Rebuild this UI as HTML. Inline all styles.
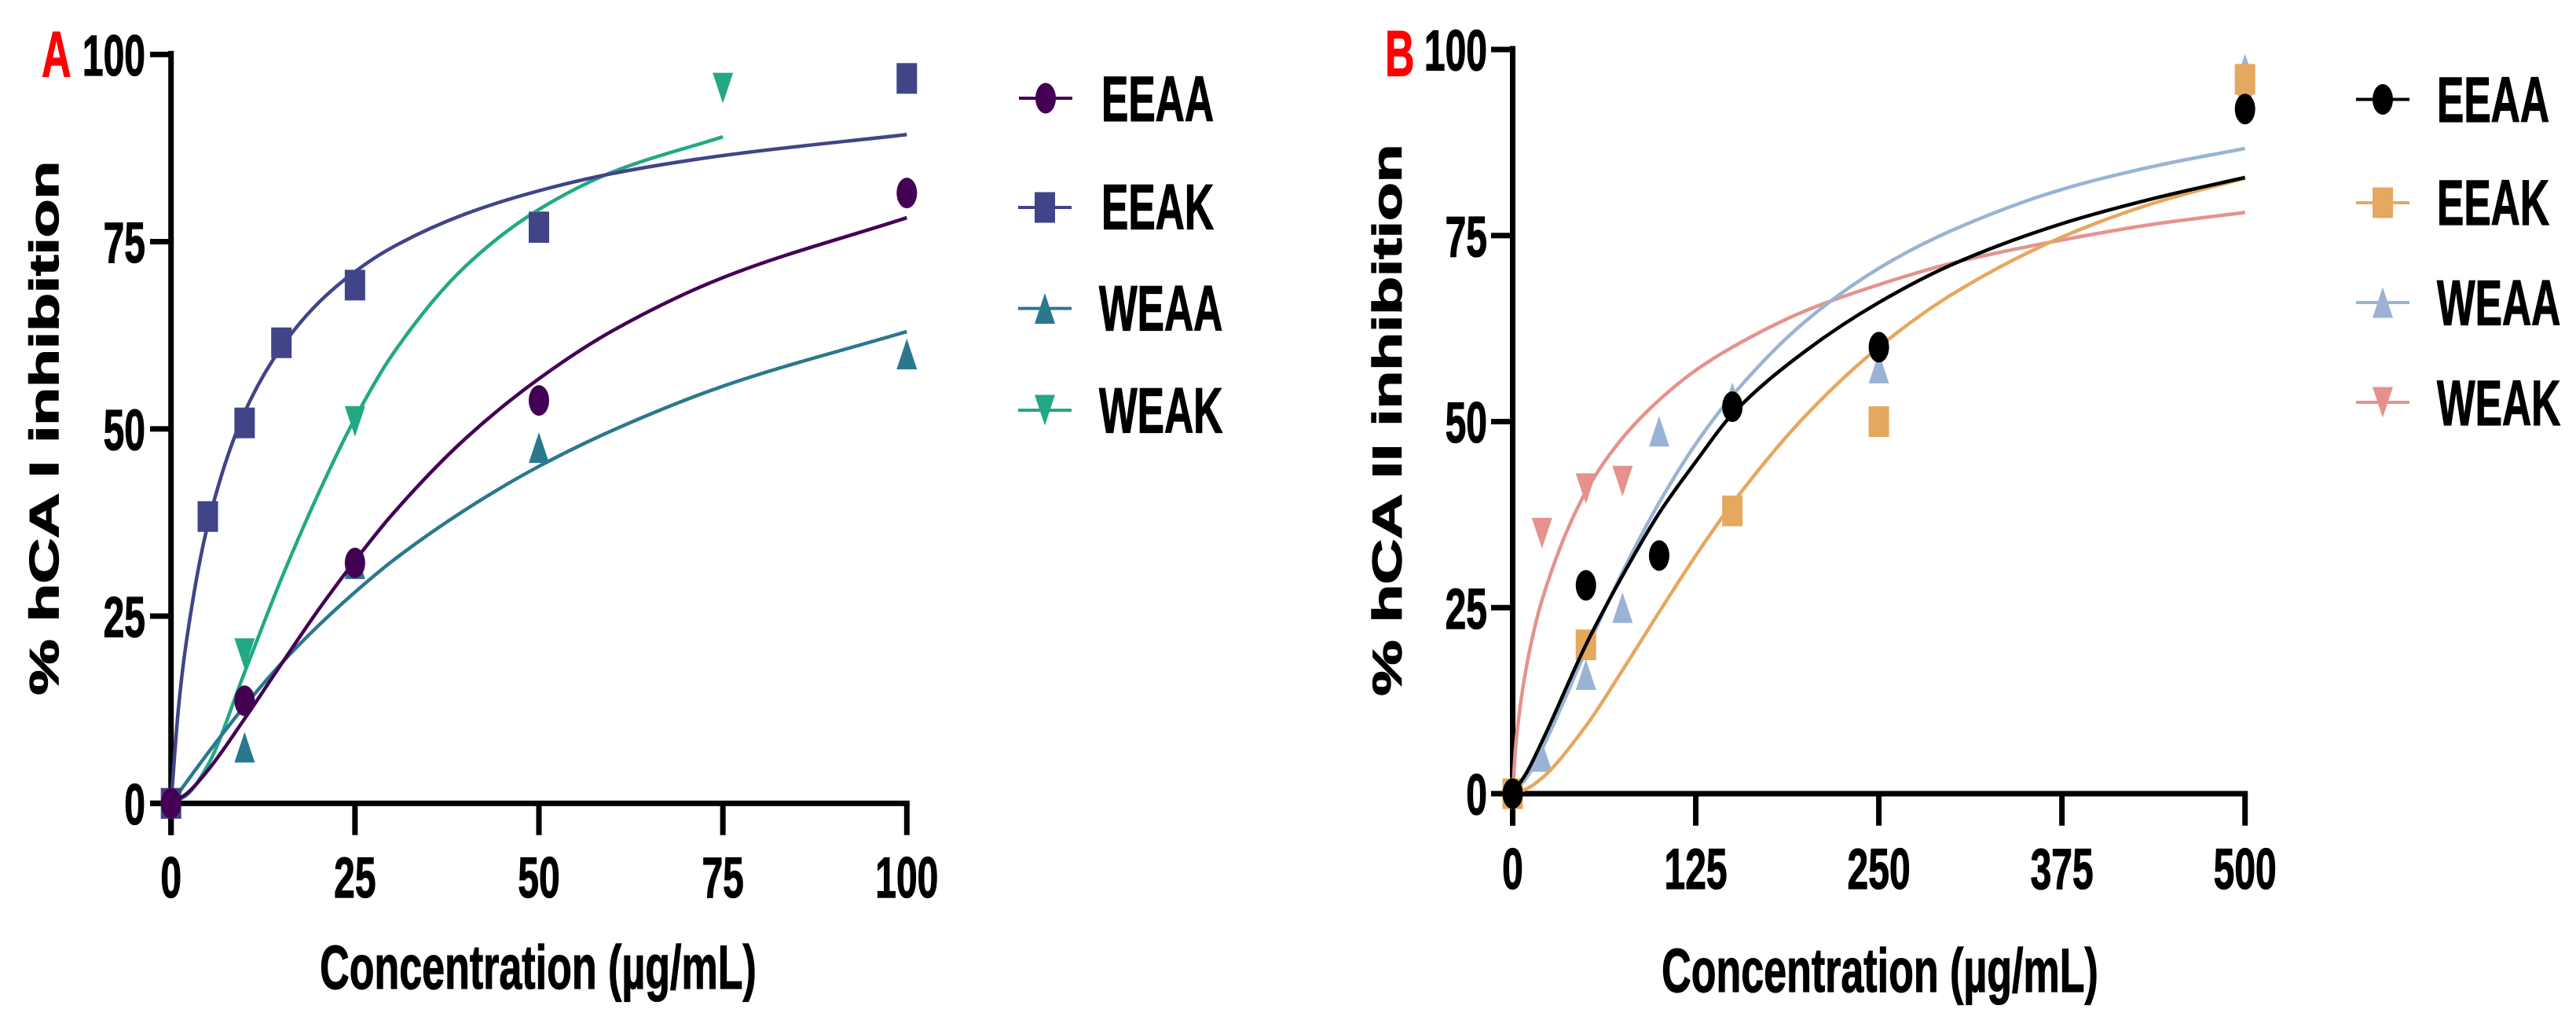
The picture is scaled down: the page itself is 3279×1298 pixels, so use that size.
<!DOCTYPE html>
<html lang="en">
<head>
<meta charset="utf-8">
<title>hCA I and hCA II inhibition curves</title>
<style>
html,body{margin:0;padding:0;background:#fff;width:3279px;height:1298px;overflow:hidden}
svg{display:block}
text{font-family:"Liberation Sans",Arial,sans-serif;font-weight:700;fill:#000;stroke:#000;stroke-width:0.8px}
</style>
</head>
<body>
<svg id="figure" xmlns="http://www.w3.org/2000/svg" width="3279" height="1298" viewBox="0 0 3279 1298">
  <rect x="0" y="0" width="3279" height="1298" fill="#fff"/>
  <g id="panelA"></g>
  <g id="panelB"></g>

  <text transform="translate(53,97.5) scale(1,1.58)" font-size="52" style="fill:#ff0000;stroke:#ff0000">A</text>
  <text transform="translate(1763,96.5) scale(1,1.58)" font-size="52" style="fill:#ff0000;stroke:#ff0000">B</text>

  <text transform="translate(685,1258) scale(1,1.52)" font-size="52" text-anchor="middle">Concentration (µg/mL)</text>
  <text transform="translate(2393,1262) scale(1,1.52)" font-size="52" text-anchor="middle">Concentration (µg/mL)</text>
  <text transform="translate(74,884.5) scale(1,1.535) rotate(-90)" font-size="52" style="stroke-width:1.4px">% hCA I inhibition</text>
  <text transform="translate(1783.5,885.5) scale(1,1.535) rotate(-90)" font-size="52" style="stroke-width:1.4px">% hCA II inhibition</text>

  <g id="legendA">
    <text transform="translate(1402,154) scale(1,1.58)" font-size="51.5">EEAA</text>
    <text transform="translate(1402,291.5) scale(1,1.58)" font-size="51.5">EEAK</text>
    <text transform="translate(1399,420.5) scale(1,1.58)" font-size="51.5">WEAA</text>
    <text transform="translate(1399,550.5) scale(1,1.58)" font-size="51.5">WEAK</text>
  </g>
  <g id="legendB">
    <text transform="translate(3102,155) scale(1,1.58)" font-size="51.5">EEAA</text>
    <text transform="translate(3102,286) scale(1,1.58)" font-size="51.5">EEAK</text>
    <text transform="translate(3102,413.5) scale(1,1.58)" font-size="51.5">WEAA</text>
    <text transform="translate(3102,541) scale(1,1.58)" font-size="51.5">WEAK</text>
  </g>
</svg>
<script>
// ---------- Panel A: data ----------
const aXTickLabels = [0, 25, 50, 75, 100];
const aYTickLabels = [0, 25, 50, 75, 100];

const aEeaaDoseX = [0, 10, 25, 50, 100];
const aEeaaDoseY = [0, 13.7, 32.1, 53.8, 81.5];
const aEeakDoseX = [0, 5, 10, 15, 25, 50, 100];
const aEeakDoseY = [0, 38.3, 50.8, 61.5, 69.2, 76.9, 96.8];
const aWeaaDoseX = [0, 10, 25, 50, 100];
const aWeaaDoseY = [0, 7.5, 32, 47.5, 60];
const aWeakDoseX = [0, 10, 25, 50, 75];
const aWeakDoseY = [0, 20, 51, 77, 95.5];

const aEeaaFitX = [0, 2, 5, 10, 15, 20, 25, 30, 40, 50, 60, 75, 100];
const aEeaaFitY = [0, 1.2, 4.4, 11.3, 18.6, 25.8, 32.4, 38.5, 48.7, 56.7, 63.1, 70.2, 78.2];
const aEeakFitX = [0, 1, 2, 5, 10, 15, 20, 25, 30, 40, 50, 60, 75, 100];
const aEeakFitY = [0, 12.6, 21, 37.2, 52.2, 60.9, 66.8, 71, 74.2, 78.7, 81.8, 84.1, 86.5, 89.3];
const aWeaaFitX = [0, 2, 5, 10, 15, 20, 25, 30, 40, 50, 60, 75, 100];
const aWeaaFitY = [0, 2.7, 6.7, 13, 18.7, 23.7, 28.2, 32.3, 39.2, 45, 49.8, 55.7, 63];
const aWeakFitX = [0, 2, 5, 10, 15, 20, 25, 30, 40, 50, 60, 75];
const aWeakFitY = [0, 1, 5.1, 17.5, 30, 41.3, 51.4, 59.8, 71.7, 79.3, 84.3, 89];

// ---------- Panel B: data ----------
const bXTickLabels = [0, 125, 250, 375, 500];
const bYTickLabels = [0, 25, 50, 75, 100];

const bEeaaDoseX = [0, 50, 100, 150, 250, 500];
const bEeaaDoseY = [0, 28, 32, 52, 60, 92];
const bEeakDoseX = [0, 50, 150, 250, 500];
const bEeakDoseY = [0, 20, 38, 50, 96];
const bWeaaDoseX = [0, 20, 50, 75, 100, 150, 250, 500];
const bWeaaDoseY = [0, 5, 16, 25, 48.7, 53.2, 57.2, 97.4];
const bWeakDoseX = [0, 20, 50, 75, 500];
const bWeakDoseY = [0, 35, 41, 42, 93];

const bEeaaFitX = [0, 10, 20, 50, 75, 100, 125, 150, 200, 250, 300, 375, 440, 500];
const bEeaaFitY = [0, 3, 7, 20, 29.3, 37.7, 44.6, 51, 59.5, 66, 71.1, 76.6, 80.1, 82.8];
const bEeakFitX = [0, 10, 20, 50, 75, 100, 125, 150, 200, 250, 300, 375, 440, 500];
const bEeakFitY = [0, 0.7, 2.1, 9.1, 16.6, 24.4, 32, 39, 50.8, 60, 67.1, 74.8, 79.5, 82.7];
const bWeaaFitX = [0, 10, 20, 50, 75, 100, 125, 150, 200, 250, 300, 375, 440, 500];
const bWeaaFitY = [0, 2.3, 6, 19.2, 29.8, 39.1, 47, 53.5, 63.5, 70.6, 75.7, 81.2, 84.4, 86.7];
const bWeakFitX = [0, 2, 5, 10, 20, 50, 75, 100, 125, 150, 200, 250, 300, 375, 440, 500];
const bWeakFitY = [0, 6.3, 11.5, 17.7, 26, 40.6, 47.8, 52.9, 56.9, 60, 64.9, 68.4, 71.3, 74.4, 76.6, 78.1];

// ---------- Axis functions ----------
function xA(v) { return 217.7 + v * (1154.3 - 217.7) / 100; }
function yA(v) { return 1022.3 - v * (1022.3 - 69.3) / 100; }
function xB(v) { return 1925.5 + v * (2857.7 - 1925.5) / 500; }
function yB(v) { return 1010 - v * (1010 - 63) / 100; }

const SVG_NS = 'http://www.w3.org/2000/svg';
const MARK_W = 26;
const MARK_H = 39;

function make(tag, attrs, parent) {
  const node = document.createElementNS(SVG_NS, tag);
  for (const k in attrs) node.setAttribute(k, attrs[k]);
  parent.appendChild(node);
  return node;
}

function markerShape(shape, cx, cy, color, parent) {
  const hw = MARK_W / 2, hh = MARK_H / 2;
  if (shape === 'circle') {
    return make('ellipse', { cx: cx, cy: cy, rx: hw, ry: hh, fill: color }, parent);
  }
  if (shape === 'square') {
    return make('rect', { x: cx - hw, y: cy - hh, width: MARK_W, height: MARK_H, fill: color }, parent);
  }
  if (shape === 'up') {
    return make('polygon', { points: cx + ',' + (cy - hh) + ' ' + (cx + hw) + ',' + (cy + hh) + ' ' + (cx - hw) + ',' + (cy + hh), fill: color }, parent);
  }
  return make('polygon', { points: (cx - hw) + ',' + (cy - hh) + ' ' + (cx + hw) + ',' + (cy - hh) + ' ' + cx + ',' + (cy + hh), fill: color }, parent);
}

// Smooth monotone path through the fitted-curve readings
function curvePath(xs, ys, fx, fy) {
  const px = xs.map(fx), py = ys.map(fy), n = px.length;
  const d = [], m = [];
  for (let i = 0; i < n - 1; i++) d.push((py[i + 1] - py[i]) / (px[i + 1] - px[i]));
  m.push(d[0]);
  for (let i = 1; i < n - 1; i++) {
    const h0 = px[i] - px[i - 1], h1 = px[i + 1] - px[i];
    m.push((d[i - 1] * d[i] <= 0) ? 0 : (h0 + h1) * 3 / ((2 * h1 + h0) / d[i - 1] + (h1 + 2 * h0) / d[i]));
  }
  m.push(d[n - 2]);
  let path = 'M' + px[0].toFixed(2) + ' ' + py[0].toFixed(2);
  for (let i = 0; i < n - 1; i++) {
    const h = (px[i + 1] - px[i]) / 3;
    path += ' C' + (px[i] + h).toFixed(2) + ' ' + (py[i] + m[i] * h).toFixed(2) + ' ' +
      (px[i + 1] - h).toFixed(2) + ' ' + (py[i + 1] - m[i + 1] * h).toFixed(2) + ' ' +
      px[i + 1].toFixed(2) + ' ' + py[i + 1].toFixed(2);
  }
  return path;
}

function drawAxes(parent, fx, fy, xTicks, yTicks, xLabelBase, tickBottom, yTickLeft, yLabelRight) {
  const hw = 3.5;
  const yAxis = make('rect', { x: fx(0) - hw, y: fy(100) - 4.5, width: 7, height: tickBottom - fy(100) + 4.5, fill: '#000' }, parent);
  
  
  const xAxis = make('rect', { x: yTickLeft, y: fy(0) - hw, width: fx(xTicks[xTicks.length - 1]) + hw - yTickLeft, height: 7, fill: '#000' }, parent);
  
  

  yTicks.forEach(function (v) {
    const tick = make('rect', { x: yTickLeft, y: fy(v) - hw, width: fx(0) - yTickLeft, height: 7, fill: '#000' }, parent);
    
    
    const label = make('text', { transform: 'translate(' + yLabelRight + ',' + (fy(v) + 26.5) + ') scale(1,1.52)', 'font-size': 48, 'text-anchor': 'end' }, parent);
    label.textContent = String(v);
    
    
  });

  xTicks.forEach(function (v) {
    const tick = make('rect', { x: fx(v) - hw, y: fy(0), width: 7, height: tickBottom - fy(0), fill: '#000' }, parent);
    
    
    const label = make('text', { transform: 'translate(' + fx(v) + ',' + xLabelBase + ') scale(1,1.52)', 'font-size': 48, 'text-anchor': 'middle' }, parent);
    label.textContent = String(v);
    
    
  });
}

function drawSeries(parent, name, color, shape, fitX, fitY, doseX, doseY, fx, fy) {
  const group = make('g', {}, parent);
  
  
  const line = make('path', { d: curvePath(fitX, fitY, fx, fy), fill: 'none', stroke: color, 'stroke-width': 4.5, 'stroke-linejoin': 'round' }, group);
  
  
  doseX.forEach(function (x, i) {
    const mark = markerShape(shape, fx(x), fy(doseY[i]), color, group);
    
    
  });
}

function drawLegendGlyph(parent, name, color, shape, cx, cy) {
  const line = make('rect', { x: cx - 34, y: cy - 2, width: 68, height: 4, fill: color }, parent);
  
  
  const mark = markerShape(shape, cx, cy, color, parent);
  
  
}

// ---------- Panel A ----------
const panelA = document.getElementById('panelA');
drawAxes(panelA, xA, yA, aXTickLabels, aYTickLabels, 1142, 1062.7, 191, 185);
drawSeries(panelA, 'weak', '#22a884', 'down', aWeakFitX, aWeakFitY, aWeakDoseX, aWeakDoseY, xA, yA);
drawSeries(panelA, 'weaa', '#2a788e', 'up', aWeaaFitX, aWeaaFitY, aWeaaDoseX, aWeaaDoseY, xA, yA);
drawSeries(panelA, 'eeak', '#414487', 'square', aEeakFitX, aEeakFitY, aEeakDoseX, aEeakDoseY, xA, yA);
drawSeries(panelA, 'eeaa', '#440154', 'circle', aEeaaFitX, aEeaaFitY, aEeaaDoseX, aEeaaDoseY, xA, yA);

const legendA = document.getElementById('legendA');
drawLegendGlyph(legendA, 'eeaa', '#440154', 'circle', 1331, 125);
drawLegendGlyph(legendA, 'eeak', '#414487', 'square', 1330, 264);
drawLegendGlyph(legendA, 'weaa', '#2a788e', 'up', 1330, 392.5);
drawLegendGlyph(legendA, 'weak', '#22a884', 'down', 1330, 522);

// ---------- Panel B ----------
const panelB = document.getElementById('panelB');
drawAxes(panelB, xB, yB, bXTickLabels, bYTickLabels, 1131, 1050.7, 1898, 1893);
drawSeries(panelB, 'weak', '#e5928e', 'down', bWeakFitX, bWeakFitY, bWeakDoseX, bWeakDoseY, xB, yB);
drawSeries(panelB, 'weaa', '#9ab3d4', 'up', bWeaaFitX, bWeaaFitY, bWeaaDoseX, bWeaaDoseY, xB, yB);
drawSeries(panelB, 'eeak', '#e5a85f', 'square', bEeakFitX, bEeakFitY, bEeakDoseX, bEeakDoseY, xB, yB);
drawSeries(panelB, 'eeaa', '#000000', 'circle', bEeaaFitX, bEeaaFitY, bEeaaDoseX, bEeaaDoseY, xB, yB);

const legendB = document.getElementById('legendB');
drawLegendGlyph(legendB, 'eeaa', '#000000', 'circle', 3033, 126.5);
drawLegendGlyph(legendB, 'eeak', '#e5a85f', 'square', 3033, 258);
drawLegendGlyph(legendB, 'weaa', '#9ab3d4', 'up', 3033, 385);
drawLegendGlyph(legendB, 'weak', '#e5928e', 'down', 3033, 512);
</script>
</body>
</html>
